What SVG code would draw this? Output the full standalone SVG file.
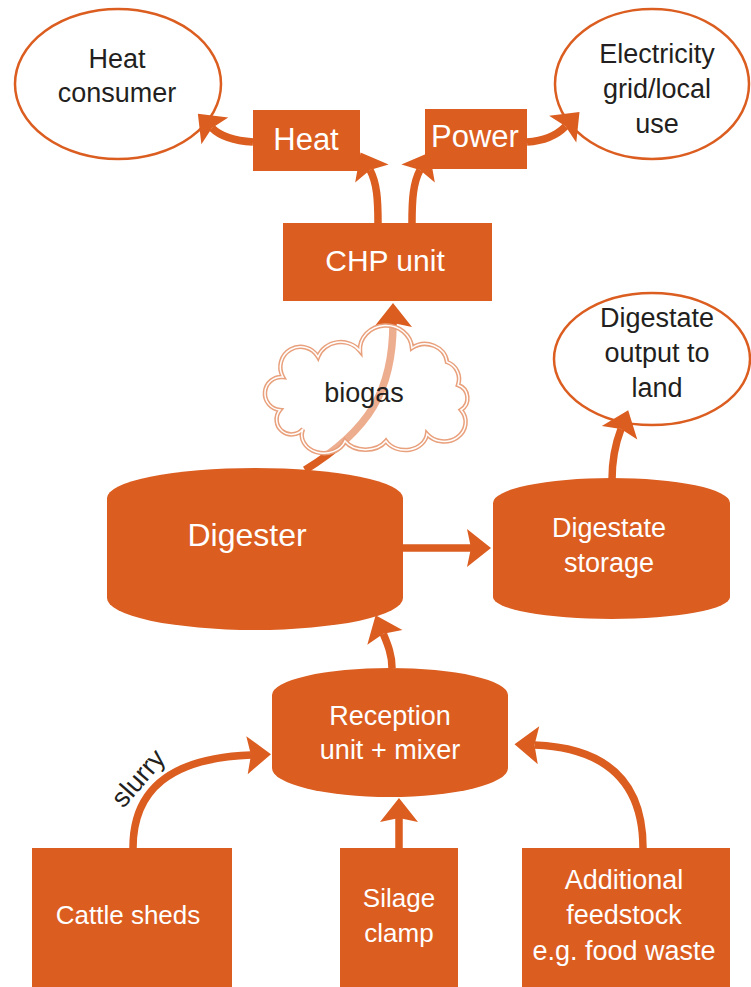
<svg xmlns="http://www.w3.org/2000/svg" width="751" height="987" viewBox="0 0 751 987">
<style>
.box{fill:#db5d20}
.oval{fill:#ffffff;stroke:#db5d20;stroke-width:2.5}
.wt{fill:#ffffff;font-family:"Liberation Sans",Arial,sans-serif;text-anchor:middle}
.bt{fill:#231f20;font-family:"Liberation Sans",Arial,sans-serif;text-anchor:middle;font-size:27px}
.conn{fill:none;stroke:#db5d20;stroke-width:7.5;marker-end:url(#head)}
</style>
<defs>
<marker id="head" markerUnits="userSpaceOnUse" viewBox="-6 -21 28 42" markerWidth="28" markerHeight="42" refX="0" refY="0" orient="auto">
<path d="M20,0 L-4,-19 L0,0 L-4,19 Z" fill="#db5d20"/>
</marker>
</defs>
<rect width="751" height="987" fill="#ffffff"/>

<g id="heat-consumer">
<ellipse class="oval" cx="118" cy="84" rx="103" ry="75"/>
<text class="bt" x="117" y="68">Heat</text>
<text class="bt" x="117" y="102">consumer</text>
</g>
<g id="electricity">
<ellipse class="oval" cx="652" cy="84" rx="97" ry="75"/>
<text class="bt" x="657" y="63">Electricity</text>
<text class="bt" x="657" y="98">grid/local</text>
<text class="bt" x="657" y="133">use</text>
</g>
<g id="digestate-output">
<ellipse class="oval" cx="652" cy="359" rx="98" ry="66"/>
<text class="bt" x="657" y="327">Digestate</text>
<text class="bt" x="657" y="362">output to</text>
<text class="bt" x="657" y="397">land</text>
</g>
<g id="heat">
<rect class="box" x="253" y="110" width="107" height="61"/>
<text class="wt" x="306" y="150" font-size="31">Heat</text>
</g>
<g id="power">
<rect class="box" x="425" y="109" width="102" height="60"/>
<text class="wt" x="475" y="147" font-size="31">Power</text>
</g>
<g id="chp">
<rect class="box" x="283" y="223" width="209" height="78"/>
<text class="wt" x="385" y="271" font-size="30">CHP unit</text>
</g>
<g id="digester">
<path class="box" d="M107,498 A148,30 0 0 1 403,498 L403,598 A148,32 0 0 1 107,598 Z"/>
<text class="wt" x="247" y="546" font-size="32">Digester</text>
</g>
<g id="digestate-storage">
<path class="box" d="M493,503 A118.5,25 0 0 1 730,503 L730,597 A118.5,22 0 0 1 493,597 Z"/>
<text class="wt" x="609" y="537" font-size="27">Digestate</text>
<text class="wt" x="609" y="572" font-size="27">storage</text>
</g>
<g id="reception">
<path class="box" d="M272,695 A118,27 0 0 1 508,695 L508,768 A118,29 0 0 1 272,768 Z"/>
<text class="wt" x="390" y="725" font-size="27">Reception</text>
<text class="wt" x="390" y="759" font-size="27">unit + mixer</text>
</g>
<g id="cattle-sheds">
<rect class="box" x="32" y="848" width="200" height="139"/>
<text class="wt" x="128" y="924" font-size="26">Cattle sheds</text>
</g>
<g id="silage-clamp">
<rect class="box" x="340" y="848" width="118" height="139"/>
<text class="wt" x="399" y="907" font-size="26">Silage</text>
<text class="wt" x="399" y="942" font-size="26">clamp</text>
</g>
<g id="additional-feedstock">
<rect class="box" x="522" y="848" width="208" height="139"/>
<text class="wt" x="624" y="889" font-size="27">Additional</text>
<text class="wt" x="624" y="924" font-size="27">feedstock</text>
<text class="wt" x="624" y="960" font-size="27">e.g. food waste</text>
</g>

<g id="connectors">
<path class="conn" d="M378,223 C378,200 377,183 370,170"/>
<path class="conn" d="M412,223 C412,200 413,183 420,170"/>
<path class="conn" d="M253,142 C238,141 222,138 212,128"/>
<path class="conn" d="M527,142 C542,141 556,136 565.5,126.3"/>
<path class="conn" d="M612,480 C612,460 616,442 621,429"/>
<path class="conn" d="M305,470 C370,430 393,390 393,323" stroke-width="6.5"/>
<path class="conn" d="M403,548 L471,548"/>
<path class="conn" d="M392,668 C392,655 388,645 383.3,633.7"/>
<path class="conn" d="M399,848 L399,818"/>
<path class="conn" d="M133,848 C133,790 170,758 251,755"/>
<path class="conn" d="M643,848 C643,785 610,748 534.5,745"/>
<text x="145" y="784" transform="rotate(-49 145 784)" fill="#231f20" font-family="Liberation Sans, Arial, sans-serif" font-size="27" text-anchor="middle">slurry</text>
</g>

<g id="biogas">
<path d="M280,410 A16,16 0 0 1 283,377 A20,20 0 0 1 318,357 A24,22 0 0 1 360,351 A26,24 0 0 1 412,348 A22,20 0 0 1 447,362 A18,18 0 0 1 458,385 A14,14 0 0 1 461,410 A20,18 0 0 1 427,434 A22,18 0 0 1 386,441 A24,18 0 0 1 345,441 A22,18 0 0 1 303,429 A14,14 0 0 1 280,410 Z" fill="#ffffff" fill-opacity="0.5" stroke="#e9a07c" stroke-width="4.5"/>
<path d="M280,410 A16,16 0 0 1 283,377 A20,20 0 0 1 318,357 A24,22 0 0 1 360,351 A26,24 0 0 1 412,348 A22,20 0 0 1 447,362 A18,18 0 0 1 458,385 A14,14 0 0 1 461,410 A20,18 0 0 1 427,434 A22,18 0 0 1 386,441 A24,18 0 0 1 345,441 A22,18 0 0 1 303,429 A14,14 0 0 1 280,410 Z" fill="none" stroke="#ffffff" stroke-width="1.5"/>
<text class="bt" x="364" y="402">biogas</text>
</g>
</svg>
